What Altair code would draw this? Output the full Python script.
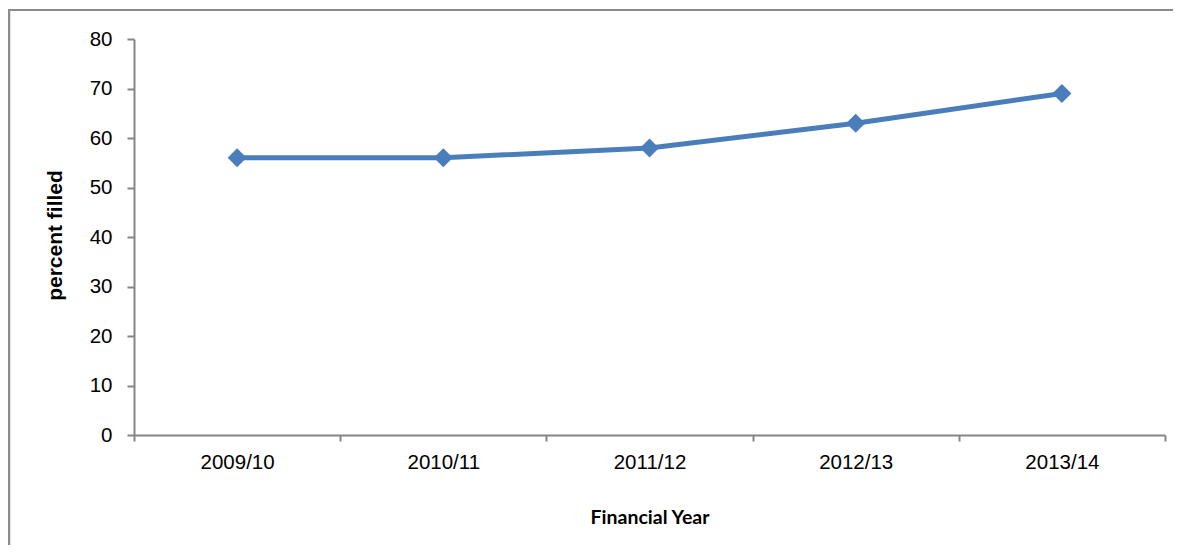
import altair as alt
import pandas as pd

# ---- data ----
years = ["2009/10", "2010/11", "2011/12", "2012/13", "2013/14"]
percent_filled = [56, 56, 58, 63, 69]
y_ticks = [0, 10, 20, 30, 40, 50, 60, 70, 80]

df = pd.DataFrame({"year": years, "pct": percent_filled})

W, H = 1031, 396
AXIS = "#868686"
FRAME = "#8c8c8c"
BLUE = "#4A7EBB"

x_enc = alt.X(
    "year:N",
    sort=years,
    scale=alt.Scale(type="band", paddingInner=0, paddingOuter=0),
    axis=alt.Axis(
        title="Financial Year",
        labelAngle=0,
        tickBand="extent",
        domainColor=AXIS,
        domainWidth=2,
        tickColor=AXIS,
        tickWidth=2,
        tickSize=6,
        labelFont="Liberation Sans",
        labelFontSize=20.5,
        labelColor="#000000",
        labelPadding=11,
        titleFont="Lato",
        titleFontWeight="bold",
        titleFontSize=19.5,
        titleColor="#000000",
        titleX=W / 2,
        titleY=82,
        titleBaseline="middle",
        titleAnchor="middle",
        grid=False,
    ),
)

y_enc = alt.Y(
    "pct:Q",
    scale=alt.Scale(domain=[0, 80], nice=False, zero=True),
    axis=alt.Axis(
        title="percent filled",
        values=y_ticks,
        domainColor=AXIS,
        domainWidth=2,
        tickColor=AXIS,
        tickWidth=2,
        tickSize=7,
        labelFont="Liberation Sans",
        labelFontSize=20.5,
        labelColor="#000000",
        labelPadding=15,
        titleFont="Liberation Sans",
        titleFontWeight="bold",
        titleFontSize=21,
        titleColor="#000000",
        titleX=-79,
        titleY=196,
        titleBaseline="middle",
        titleAngle=-90,
        grid=False,
    ),
)

base = alt.Chart(df)
line = base.mark_line(color=BLUE, strokeWidth=5).encode(x=x_enc, y=y_enc)
pts = base.mark_point(
    shape="diamond", filled=True, size=360, color=BLUE, opacity=1
).encode(x=x_enc, y=y_enc)

one = pd.DataFrame({"a": [0]})
frame_top = alt.Chart(one).mark_rule(color=FRAME, strokeWidth=2).encode(
    x=alt.value(-126), x2=alt.value(1045), y=alt.value(-29)
)
frame_left = alt.Chart(one).mark_rule(color=FRAME, strokeWidth=2.5).encode(
    x=alt.value(-125), y=alt.value(-30), y2=alt.value(520)
)

chart = (
    alt.layer(frame_top, frame_left, line, pts)
    .properties(
        width=W,
        height=H,
        autosize=alt.AutoSizeParams(type="none"),
        padding={"left": 126, "top": 31, "right": 8, "bottom": 110},
        background="white",
    )
    .configure_view(stroke=None)
)

chart.save("out.html", embed_options={"renderer": "svg", "actions": False})
